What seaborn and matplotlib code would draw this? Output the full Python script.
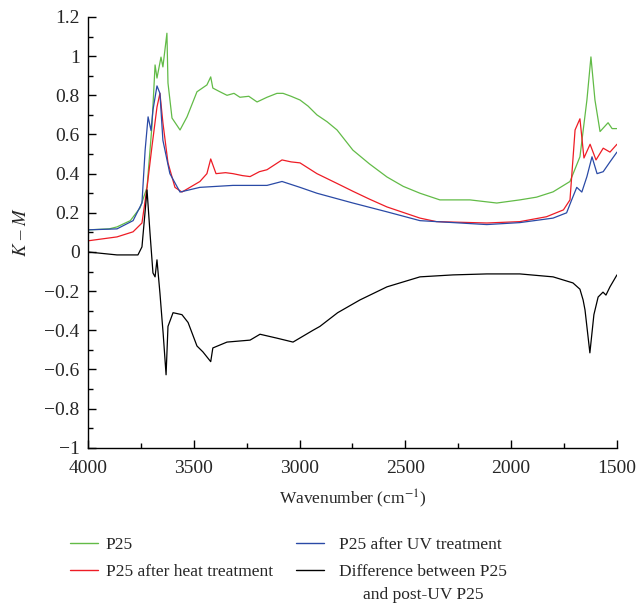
import pandas as pd
import numpy as np
import matplotlib
matplotlib.use("Agg")
import matplotlib.pyplot as plt
import seaborn as sns
from matplotlib.ticker import MultipleLocator, FuncFormatter

# spectra (wavenumber in cm-1, K-M units)
p25_wn = [4000, 3900, 3863, 3800, 3754, 3721, 3698, 3683, 3674, 3655, 3646, 3627, 3622, 3603,
          3565, 3532, 3485, 3438, 3420, 3410, 3380, 3343, 3310, 3282, 3240, 3201, 3154, 3107, 3078,
          3040, 2998, 2960, 2918, 2870, 2823, 2748, 2670, 2587, 2510, 2431, 2337, 2195, 2068, 1959,
          1880, 1802, 1722, 1675, 1642, 1623, 1604, 1580, 1542, 1523, 1500]
p25_km = [0.113, 0.118, 0.128, 0.16, 0.225, 0.33, 0.64, 0.955, 0.888, 0.995, 0.945, 1.117, 0.863, 0.684,
          0.623, 0.69, 0.818, 0.853, 0.894, 0.837, 0.82, 0.80, 0.81, 0.79, 0.795, 0.766, 0.79, 0.81, 0.81,
          0.795, 0.776, 0.745, 0.70, 0.665, 0.623, 0.52, 0.45, 0.383, 0.335, 0.30, 0.266, 0.266, 0.25, 0.266,
          0.28, 0.307, 0.36, 0.486, 0.776, 0.996, 0.776, 0.615, 0.66, 0.63, 0.63]

heat_wn = [4000, 3863, 3787, 3745, 3721, 3698, 3674, 3660, 3646, 3622, 3589, 3556, 3471, 3438,
           3420, 3395, 3350, 3315, 3270, 3234, 3190, 3154, 3083, 3040, 2998, 2918, 2823, 2748, 2670,
           2587, 2431, 2353, 2115, 1959, 1833, 1753, 1722, 1698, 1675, 1656, 1627, 1599, 1565, 1533, 1500]
heat_km = [0.057, 0.077, 0.103, 0.148, 0.33, 0.536, 0.74, 0.81, 0.66, 0.455, 0.33, 0.306, 0.36, 0.40,
           0.475, 0.40, 0.405, 0.40, 0.39, 0.385, 0.41, 0.42, 0.47, 0.46, 0.455, 0.40, 0.35, 0.31, 0.27,
           0.23, 0.173, 0.155, 0.148, 0.155, 0.18, 0.215, 0.266, 0.623, 0.68, 0.48, 0.55, 0.47, 0.53, 0.51, 0.55]

uv_wn = [4000, 3863, 3787, 3745, 3730, 3716, 3702, 3693, 3674, 3660, 3646, 3613, 3565, 3471,
         3315, 3154, 3083, 2998, 2918, 2748, 2587, 2431, 2115, 1959, 1802, 1738, 1714, 1690,
         1666, 1642, 1618, 1594, 1565, 1533, 1500]
uv_km = [0.113, 0.118, 0.16, 0.25, 0.52, 0.69, 0.62, 0.725, 0.848, 0.81, 0.57, 0.40, 0.306, 0.33,
         0.34, 0.34, 0.36, 0.33, 0.30, 0.25, 0.205, 0.16, 0.14, 0.15, 0.173, 0.20, 0.266, 0.33,
         0.306, 0.385, 0.486, 0.40, 0.41, 0.46, 0.51]

diff_wn = [4000, 3863, 3764, 3745, 3721, 3707, 3693, 3683, 3674, 3660, 3650, 3645, 3631, 3622,
           3598, 3556, 3527, 3485, 3457, 3420, 3410, 3343, 3234, 3187, 3107, 3031, 2937, 2904,
           2820, 2715, 2587, 2431, 2275, 2115, 1959, 1802, 1708, 1675, 1660, 1651, 1628, 1609, 1589,
           1566, 1552, 1533, 1500]
diff_km = [0.0, -0.015, -0.015, 0.026, 0.317, 0.097, -0.107, -0.127, -0.04, -0.21, -0.347, -0.413, -0.627, -0.38,
           -0.31, -0.32, -0.36, -0.48, -0.51, -0.56, -0.49, -0.46, -0.45, -0.42, -0.44, -0.46, -0.40, -0.38,
           -0.31, -0.245, -0.178, -0.127, -0.117, -0.112, -0.112, -0.127, -0.158, -0.19, -0.245, -0.296, -0.515, -0.32, -0.23,
           -0.205, -0.22, -0.178, -0.117]

labels = ["P25", "P25 after heat treatment", "P25 after UV treatment",
          "Difference between P25"]
extra_line = "and post-UV P25"
colors = ["#62bb47", "#ee1c25", "#2a4aa6", "#000000"]

frames = []
for name, wn, km in zip(labels, [p25_wn, heat_wn, uv_wn, diff_wn], [p25_km, heat_km, uv_km, diff_km]):
    frames.append(pd.DataFrame({"wavenumber": wn, "km": km, "sample": name}))
df = pd.concat(frames, ignore_index=True)

sns.set_style("ticks")
plt.rcParams["font.family"] = ["Liberation Serif", "DejaVu Serif"]
plt.rcParams["mathtext.fontset"] = "stix"

fig = plt.figure(figsize=(6.4, 6.06), dpi=100)
ax = fig.add_axes([0.1375, 0.261, 0.8265, 0.711])

sns.lineplot(data=df, x="wavenumber", y="km", hue="sample", palette=colors,
             hue_order=labels, estimator=None, sort=False, linewidth=0.9, ax=ax)

ax.set_xlim(4000, 1500)
ax.set_ylim(-1, 1.2)
ax.xaxis.set_major_locator(MultipleLocator(500))
ax.xaxis.set_minor_locator(MultipleLocator(250))
ax.yaxis.set_major_locator(MultipleLocator(0.2))
ax.yaxis.set_minor_locator(MultipleLocator(0.1))


def fmt(v, pos):
    s = f"{round(v, 2):g}"
    if s in ("-0", "0"):
        return "0"
    return s.replace("-", "\u2212")


ax.yaxis.set_major_formatter(FuncFormatter(fmt))
ax.tick_params(which="major", direction="in", length=6, width=1, labelsize=14, color="black")
ax.tick_params(which="minor", direction="in", length=3.5, width=1, color="black")
ax.tick_params(axis="x", which="major", pad=8.5)
ax.tick_params(axis="y", which="major", pad=6)
sns.despine(ax=ax)
for s in ["left", "bottom"]:
    ax.spines[s].set_linewidth(1)
    ax.spines[s].set_color("black")

ax.set_xlabel("Wavenumber (cm$^{\u22121}$)", fontsize=12.5, labelpad=8)
ax.set_ylabel("$K$ \u2013 $M$", fontsize=13.5, labelpad=10)

ax.get_legend().remove()
handles, _ = ax.get_legend_handles_labels()
leg_kw = dict(loc="upper left", frameon=False, fontsize=12.5, handlelength=1.6,
              labelspacing=0.6, borderpad=0, borderaxespad=0)
leg1 = fig.legend(handles[:2], labels[:2], bbox_to_anchor=(70 / 640, 1 - 537 / 606),
                  handletextpad=0.45, **leg_kw)
leg2 = fig.legend(handles[2:], labels[2:], bbox_to_anchor=(296 / 640, 1 - 537 / 606),
                  handletextpad=0.9, **leg_kw)
for lg in (leg1, leg2):
    for h in lg.get_lines():
        h.set_linewidth(1.0)

# second line of the last entry, centred under its first line
fig.canvas.draw()
bb = leg2.get_texts()[1].get_window_extent().transformed(fig.transFigure.inverted())
fig.text((bb.x0 + bb.x1) / 2, bb.y0 - 26 / 606 + 0.004, extra_line, ha="center", va="bottom",
         fontsize=12.5)

fig.savefig("out.png", dpi=100)
